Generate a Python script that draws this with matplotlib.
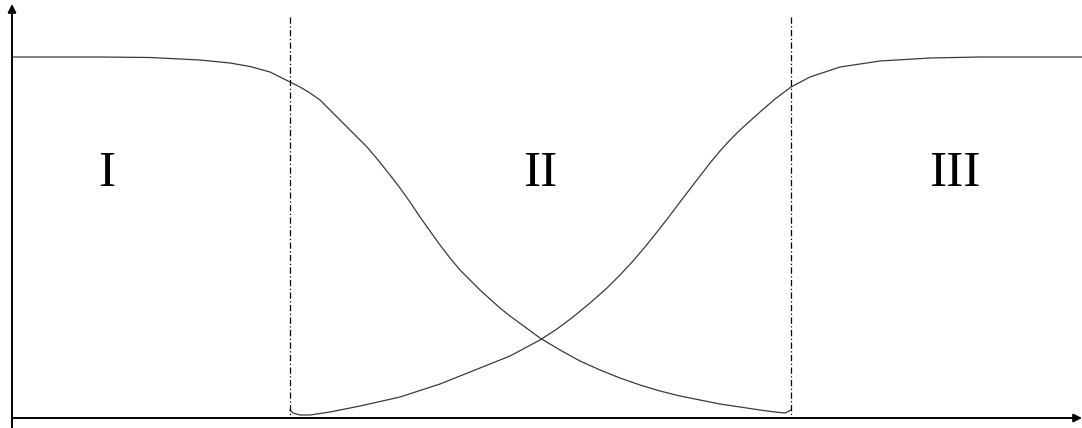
import matplotlib.pyplot as plt

# curva descendente (em pixels)
x_desc = [12, 100, 150, 200, 230, 250, 270, 290, 300, 310, 320, 330, 340, 353, 367, 378, 390, 400, 410, 420, 430, 440, 450, 460, 470, 480, 490, 500, 510, 525, 540, 560, 580, 600, 620, 640, 660, 680, 700, 720, 740, 760, 775, 785, 791]
y_desc = [57, 57, 57.5, 60, 63, 66.5, 72, 82, 87, 93, 100, 110, 120, 133, 147, 160, 175, 188, 202, 217, 231, 245, 258, 270, 280, 290, 299, 308, 316, 327, 338, 350, 361, 370, 378, 385, 391, 396, 400, 404, 407, 410, 412, 413, 410]

# curva ascendente
x_asc = [290, 293, 300, 310, 330, 360, 400, 440, 480, 510, 540, 557, 573, 590, 607, 620, 633, 645, 657, 668, 680, 690, 700, 710, 720, 730, 740, 750, 760, 775, 791, 810, 840, 880, 930, 980, 1082]
y_asc = [410, 413, 415, 415, 412, 406, 397, 384, 368, 356, 340, 329, 317, 303, 288, 275, 261, 247, 232, 218, 202, 189, 176, 163, 151, 140, 130, 121, 112, 99, 87, 77, 67, 61, 58, 57, 57]

x_div = [290, 791]
regioes = ["I", "II", "III"]
x_regioes = [107, 540, 955]

fig = plt.figure(figsize=(10.82, 4.28), dpi=100)
ax = fig.add_axes([0, 0, 1, 1])
ax.set_xlim(0, 1082)
ax.set_ylim(428, 0)
ax.axis("off")

cor = "#3a3a3a"
ax.plot(x_desc, y_desc, color=cor, linewidth=0.9)
ax.plot(x_asc, y_asc, color=cor, linewidth=0.9)

for x in x_div:
    ax.plot([x, x], [17, 418], color="black", linewidth=0.9, linestyle=(0, (5, 2, 1, 2)))

# eixos com setas
ax.annotate("", xy=(1082, 418), xytext=(12, 418),
            arrowprops=dict(arrowstyle="-|>", color="black", lw=1.4, mutation_scale=12, shrinkA=0, shrinkB=0))
ax.annotate("", xy=(12, 4), xytext=(12, 428),
            arrowprops=dict(arrowstyle="-|>", color="black", lw=1.4, mutation_scale=12, shrinkA=0, shrinkB=0))

for x, r in zip(x_regioes, regioes):
    ax.text(x, 174, r, fontsize=37, family="Liberation Serif", ha="center", va="center")

plt.savefig("out.png", dpi=100)
